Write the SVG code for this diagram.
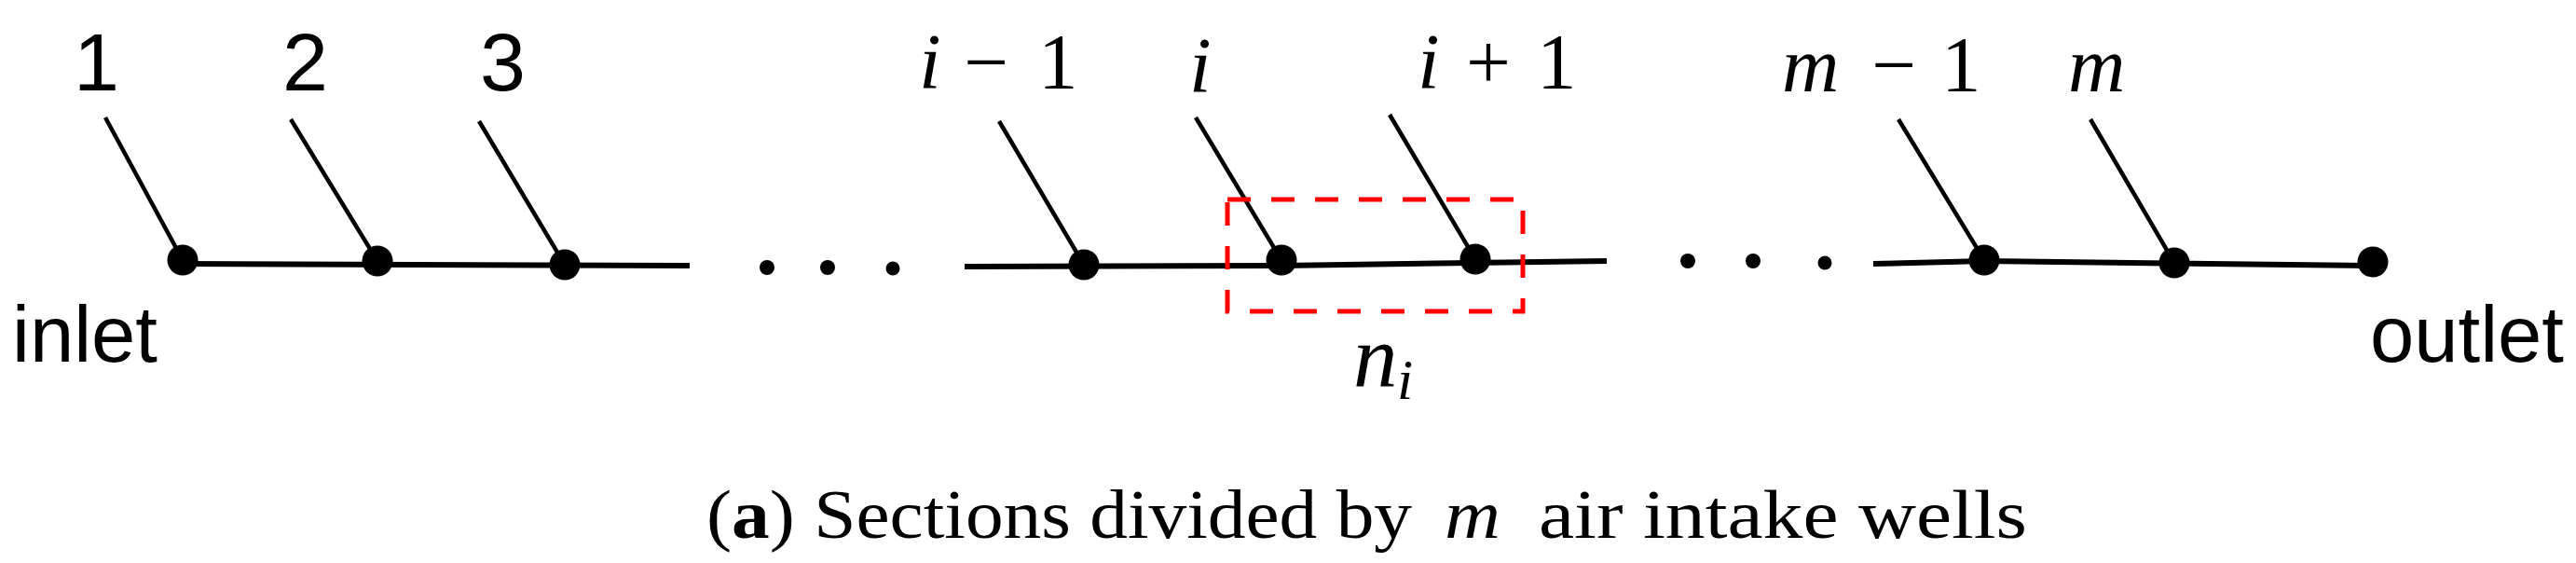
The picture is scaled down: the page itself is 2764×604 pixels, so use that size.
<svg xmlns="http://www.w3.org/2000/svg" width="2764" height="604" viewBox="0 0 2764 604">
<style>
.bg{fill:#ffffff}
.main{fill:none;stroke:#000;stroke-width:6;stroke-linecap:butt;stroke-linejoin:round}
.well{fill:none;stroke:#000;stroke-width:4.5;stroke-linecap:butt}
.dot{fill:#000}
.sdot{fill:#000}
.sel{fill:none;stroke:#ff0000;stroke-width:5;stroke-dasharray:25 22}
.num{font-family:"Liberation Sans",Arial,sans-serif;font-size:88px;fill:#000}
.io{font-family:"Liberation Sans",Arial,sans-serif;font-size:85px;fill:#000}
.math{font-family:"Liberation Serif","Times New Roman",serif;font-size:85px;fill:#000}
.it{font-style:italic}
.cap{font-family:"Liberation Serif","Times New Roman",serif;font-size:75px;fill:#000}
</style>
<rect class="bg" x="0" y="0" width="2764" height="604"/>

<g id="connectors">
  <polyline class="main" points="196,283 740,285"/>
  <polyline class="main" points="1035,286 1375,285 1724,280"/>
  <polyline class="main" points="2010,283 2129,280 2546,285"/>
  <line class="well" x1="113" y1="126" x2="196" y2="279"/>
  <line class="well" x1="312" y1="128" x2="405" y2="280"/>
  <line class="well" x1="514" y1="130" x2="606" y2="284"/>
  <line class="well" x1="1072" y1="130" x2="1163" y2="284"/>
  <line class="well" x1="1283" y1="126" x2="1375" y2="279"/>
  <line class="well" x1="1491" y1="123" x2="1583" y2="278"/>
  <line class="well" x1="2037" y1="128" x2="2129" y2="279"/>
  <line class="well" x1="2243" y1="128" x2="2333" y2="282"/>
</g>

<g id="ellipsis-left">
  <circle class="sdot" cx="823" cy="287" r="8"/>
  <circle class="sdot" cx="888" cy="287" r="8"/>
  <circle class="sdot" cx="958" cy="288" r="7.5"/>
</g>
<g id="ellipsis-right">
  <circle class="sdot" cx="1811" cy="280" r="8"/>
  <circle class="sdot" cx="1881" cy="280" r="8"/>
  <circle class="sdot" cx="1958" cy="282" r="7.5"/>
</g>

<g id="inlet">
  <text class="io" x="13" y="388">inlet</text>
</g>
<g id="well-1">
  <circle class="dot" cx="196" cy="279" r="16.5"/>
  <text class="num" x="79" y="97">1</text>
</g>
<g id="well-2">
  <circle class="dot" cx="405" cy="280" r="16.5"/>
  <text class="num" x="303" y="97">2</text>
</g>
<g id="well-3">
  <circle class="dot" cx="606" cy="284" r="16.5"/>
  <text class="num" x="515" y="97">3</text>
</g>
<g id="well-i-1">
  <circle class="dot" cx="1163" cy="284" r="16.5"/>
  <text class="math" y="95"><tspan class="it" x="986">i</tspan><tspan x="1034">−</tspan><tspan x="1114">1</tspan></text>
</g>
<g id="well-i">
  <circle class="dot" cx="1375" cy="279" r="16.5"/>
  <text class="math it" x="1276" y="99">i</text>
</g>
<g id="well-i+1">
  <circle class="dot" cx="1583" cy="278" r="16.5"/>
  <text class="math" y="95"><tspan class="it" x="1521">i</tspan><tspan x="1573">+</tspan><tspan x="1649">1</tspan></text>
</g>
<g id="section-ni">
  <rect class="sel" x="1317" y="214" width="317" height="120"/>
  <text class="math it" x="1452" y="415" style="font-size:95px">n</text>
  <text class="math it" x="1499" y="428" style="font-size:62px">i</text>
</g>
<g id="well-m-1">
  <circle class="dot" cx="2129" cy="279" r="16.5"/>
  <text class="math" y="98"><tspan class="it" x="1912">m</tspan><tspan x="2008">−</tspan><tspan x="2083">1</tspan></text>
</g>
<g id="well-m">
  <circle class="dot" cx="2333" cy="282" r="16.5"/>
  <text class="math it" x="2219" y="98">m</text>
</g>
<g id="outlet">
  <circle class="dot" cx="2546" cy="281" r="16.5"/>
  <text class="io" x="2543" y="388">outlet</text>
</g>

<g id="caption">
  <text class="cap" x="758" y="577" textLength="757" lengthAdjust="spacingAndGlyphs">(<tspan font-weight="bold">a</tspan>) Sections divided by</text>
  <text class="cap it" x="1550" y="577" textLength="60" lengthAdjust="spacingAndGlyphs">m</text>
  <text class="cap" x="1651" y="577" textLength="524" lengthAdjust="spacingAndGlyphs">air intake wells</text>
</g>
</svg>
